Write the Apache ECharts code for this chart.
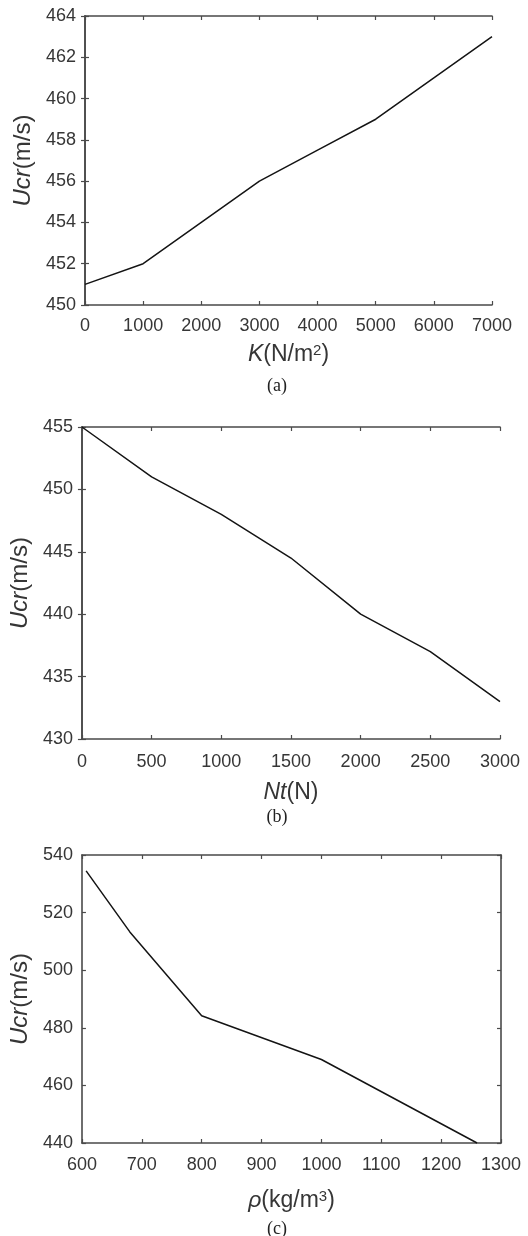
<!DOCTYPE html>
<html>
<head>
<meta charset="utf-8">
<script src="https://cdn.jsdelivr.net/npm/echarts@6/dist/echarts.min.js"></script>
<style>
  html, body { margin: 0; padding: 0; background: #fff; }
  #chart { width: 528px; height: 1236px; }
</style>
</head>
<body>
<div id="chart"></div>
<script>
// (a) critical velocity vs. foundation stiffness K
const stiffnessK = [0, 1000, 2000, 3000, 4000, 5000, 6000, 7000];
const ucrByK = [451, 452, 454, 456, 457.5, 459, 461, 463];

// (b) critical velocity vs. axial tension Nt
const tensionNt = [0, 500, 1000, 1500, 2000, 2500, 3000];
const ucrByNt = [455, 451, 448, 444.5, 440, 437, 433];

// (c) critical velocity vs. fluid density rho
const densityRho = [607, 680, 800, 1000, 1260];
const ucrByRho = [534.5, 513.3, 484.2, 469, 440];

const panelCaptions = ['(a)', '(b)', '(c)'];

const FONT = 'Liberation Sans, Arial, sans-serif';
const TEXT = '#363636';
const AXIS = '#4a4a4a';

// panel boxes in pixels
const boxes = [
  { left: 85, right: 492, top: 16, bottom: 305 },
  { left: 79, right: 500, top: 427, bottom: 739 },
  { left: 77, right: 501, top: 855, bottom: 1143 }
];

const xRanges = [
  { min: 0, max: 7000, interval: 1000 },
  { min: 0, max: 3000, interval: 500 },
  { min: 600, max: 1300, interval: 100 }
];
const yRanges = [
  { min: 450, max: 464, interval: 2 },
  { min: 430, max: 455, interval: 5 },
  { min: 440, max: 540, interval: 20 }
];

const nameRich = {
  i: { fontFamily: FONT, fontSize: 23, fontStyle: 'italic', color: TEXT },
  t: { fontFamily: FONT, fontSize: 23, color: TEXT },
  s: { fontFamily: FONT, fontSize: 15, color: TEXT, verticalAlign: 'top', lineHeight: 6 }
};
const yNameRich = {
  i: { fontFamily: FONT, fontSize: 24, fontStyle: 'italic', color: TEXT },
  t: { fontFamily: FONT, fontSize: 24, color: TEXT }
};

const xNames = [
  '{i|K}{t|(N/m}{s|2}{t|)}',
  '{i|Nt}{t|(N)}',
  '{i|ρ}{t|(kg/m}{s|3}{t|)}'
];
const xNameGaps = [38, 42, 46];
const yNameGaps = [45, 44, 48];
const xLabelMargins = [12, 14, 13];

const grids = boxes.map(b => ({
  left: b.left, top: b.top,
  width: b.right - b.left, height: b.bottom - b.top,
  containLabel: false
}));

const tickStyle = { show: true, inside: true, length: 4, lineStyle: { color: AXIS, width: 1.2 } };
const lineStyle = { show: true, lineStyle: { color: AXIS, width: 1.6 } };
const plainNumber = v => String(v);

const xAxes = [];
const yAxes = [];
for (let p = 0; p < 3; p++) {
  // bottom axis with labels
  xAxes.push({
    type: 'value', gridIndex: p, position: 'bottom',
    min: xRanges[p].min, max: xRanges[p].max, interval: xRanges[p].interval,
    axisLine: lineStyle, axisTick: tickStyle, splitLine: { show: false },
    axisLabel: { margin: xLabelMargins[p], fontFamily: FONT, fontSize: 18, color: TEXT, formatter: plainNumber, showMinLabel: true, showMaxLabel: true },
    name: xNames[p], nameLocation: 'middle', nameGap: xNameGaps[p],
    nameTextStyle: { rich: nameRich }
  });
  // top frame axis
  xAxes.push({
    type: 'value', gridIndex: p, position: 'top',
    min: xRanges[p].min, max: xRanges[p].max, interval: xRanges[p].interval,
    axisLine: lineStyle, axisTick: tickStyle, splitLine: { show: false },
    axisLabel: { show: false }
  });
  // left axis with labels
  yAxes.push({
    type: 'value', gridIndex: p, position: 'left',
    min: yRanges[p].min, max: yRanges[p].max, interval: yRanges[p].interval,
    axisLine: lineStyle, axisTick: tickStyle, splitLine: { show: false },
    axisLabel: { margin: 9, fontFamily: FONT, fontSize: 18, color: TEXT, formatter: plainNumber, showMinLabel: true, showMaxLabel: true },
    name: '{i|Ucr}{t|(m/s)}', nameLocation: 'middle', nameRotate: 90, nameGap: yNameGaps[p],
    nameTextStyle: { rich: yNameRich }
  });
  // right frame axis
  yAxes.push({
    type: 'value', gridIndex: p, position: 'right',
    min: yRanges[p].min, max: yRanges[p].max, interval: yRanges[p].interval,
    axisLine: lineStyle, axisTick: tickStyle, splitLine: { show: false },
    axisLabel: { show: false }
  });
}

const seriesData = [
  stiffnessK.map((x, i) => [x, ucrByK[i]]),
  tensionNt.map((x, i) => [x, ucrByNt[i]]),
  densityRho.map((x, i) => [x, ucrByRho[i]])
];

const series = seriesData.map((d, p) => ({
  type: 'line',
  xAxisIndex: p * 2,
  yAxisIndex: p * 2,
  data: d,
  showSymbol: false,
  symbol: 'none',
  silent: true,
  clip: false,
  lineStyle: { color: '#141414', width: 1.5 }
}));

// panel captions under each plot
const captionY = [386, 817, 1229];
const graphic = panelCaptions.map((c, p) => ({
  type: 'text',
  style: {
    text: c,
    x: 277, y: captionY[p],
    fontFamily: 'Liberation Serif, Times New Roman, serif',
    fontSize: 18, fill: '#222',
    textAlign: 'center', textVerticalAlign: 'middle'
  }
}));

const chart = echarts.init(document.getElementById('chart'), null, { renderer: 'canvas' });
chart.setOption({
  backgroundColor: '#ffffff',
  animation: false,
  grid: grids,
  xAxis: xAxes,
  yAxis: yAxes,
  series: series,
  graphic: graphic
});
</script>
</body>
</html>
